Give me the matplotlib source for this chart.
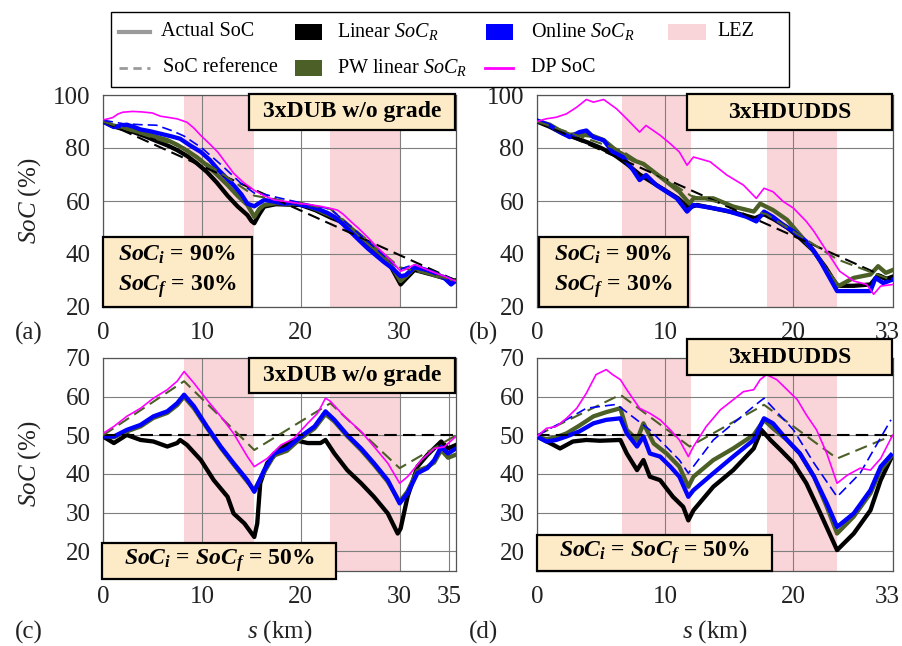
import matplotlib
matplotlib.use("Agg")
import matplotlib.pyplot as plt
from matplotlib.patches import Rectangle
from matplotlib.lines import Line2D
from matplotlib.transforms import ScaledTranslation

plt.rcParams['font.family'] = ['Liberation Serif', 'DejaVu Serif']
plt.rcParams['mathtext.fontset'] = 'custom'
plt.rcParams['mathtext.rm'] = 'Liberation Serif'
plt.rcParams['mathtext.it'] = 'Liberation Serif:italic'
plt.rcParams['mathtext.bf'] = 'Liberation Serif:bold'
HAS_BFIT = 'mathtext.bfit' in plt.rcParams
if HAS_BFIT:
    plt.rcParams['mathtext.bfit'] = 'Liberation Serif:bold:italic'

# ---------------- data ----------------
# Panel (a): 3xDUB w/o grade, SoC_i=90%, SoC_f=30%  (x in km)
a_dp_x = [0, 0.5, 1.0, 1.5, 2.0, 3.0, 4.0, 5.0, 5.8, 6.5, 7.5, 8.5, 9.2, 9.9, 10.8, 11.6, 12.4, 13.2, 14.2, 15.3, 16.3, 17.3, 18.5, 20.0, 21.0, 22.0, 23.0, 23.7, 24.3, 25.0, 25.9, 26.8, 27.6, 28.4, 29.3, 30.1, 30.6, 31.5, 32.5, 33.5, 34.6, 35.7]
a_dp_y = [90.6, 91.0, 91.5, 92.8, 93.5, 93.8, 93.6, 93.2, 92.0, 91.6, 91.0, 89.7, 87.5, 84.7, 81.5, 78.5, 74.5, 70.5, 67.0, 64.0, 62.0, 60.4, 59.8, 59.0, 58.6, 58.0, 57.2, 56.6, 55.0, 52.5, 49.5, 46.2, 43.0, 40.2, 36.8, 33.5, 34.2, 36.0, 34.5, 33.0, 31.5, 29.7]
a_on_x = [0, 0.5, 1.1, 1.7, 2.4, 3.1, 3.8, 4.8, 5.8, 6.8, 7.8, 8.8, 9.9, 10.8, 11.6, 12.4, 13.2, 14.0, 14.6, 15.3, 15.7, 16.3, 17.3, 18.3, 19.2, 20.0, 21.0, 22.0, 22.7, 23.4, 24.2, 25.0, 25.9, 26.8, 27.6, 28.4, 29.3, 30.1, 30.6, 31.5, 32.5, 33.5, 34.5, 35.2, 35.7]
a_on_y = [90.0, 89.0, 87.9, 88.3, 88.8, 88.0, 87.0, 86.3, 85.4, 84.5, 83.5, 81.0, 78.5, 75.5, 72.0, 69.0, 66.0, 62.5, 59.0, 58.0, 59.0, 60.4, 59.8, 59.0, 59.3, 58.5, 57.8, 56.6, 55.5, 54.0, 51.5, 48.5, 45.2, 42.0, 39.5, 37.0, 34.5, 31.6, 32.0, 35.0, 34.2, 33.0, 31.0, 28.5, 30.0]
a_onref_x = [0, 2, 3.8, 5.4, 7, 8.2, 10, 12, 14, 15.3, 16.3, 18, 20, 23, 25, 27, 29, 30, 30.6, 31.5, 33, 35.7]
a_onref_y = [90.5, 89.2, 88.8, 88.6, 86.5, 84.5, 80.0, 73.5, 66.5, 63.0, 62.5, 61.0, 59.3, 57.0, 50.5, 44.0, 37.5, 34.0, 35.0, 36.0, 34.0, 30.0]
a_pw_x = [0, 1, 2, 3.1, 4.2, 5.3, 6.5, 7.5, 8.5, 9.5, 10.5, 11.5, 12.6, 13.6, 14.6, 15.0, 15.3, 15.8, 16.3, 17.5, 19, 20, 21.5, 23, 24, 25, 26, 27, 28, 29, 30.1, 30.6, 31.5, 32.5, 33.5, 34.6, 35.7]
a_pw_y = [90, 88.5, 87.8, 86.6, 85.5, 84.3, 83.0, 81.2, 79.0, 76.5, 73.5, 70.0, 66.0, 62.0, 58.5, 56.0, 54.0, 57.0, 58.5, 59.2, 58.8, 59.0, 57.0, 54.5, 53.0, 50.0, 46.8, 43.5, 40.4, 36.5, 29.8, 31.5, 34.8, 33.5, 32.0, 31.0, 29.8]
a_lin_x = a_pw_x
a_lin_y = [90, 88.2, 87.2, 86.0, 84.5, 82.8, 81.0, 79.2, 77.0, 74.2, 71.0, 67.0, 62.0, 58.0, 54.7, 52.5, 51.6, 55.0, 57.9, 58.8, 58.6, 58.5, 56.5, 53.8, 52.3, 49.5, 46.0, 43.0, 40.0, 36.0, 28.5, 30.5, 34.0, 33.0, 32.0, 30.8, 29.8]
a_linref_x = [0, 35.7]
a_linref_y = [90, 30]
a_pwref_x = [0, 8.2, 15.3, 23.0, 30.0, 35.7]
a_pwref_y = [90, 80, 62, 57, 35, 30]

# Panel (b): 3xHDUDDS, SoC_i=90%, SoC_f=30%  (x in axis units, end = 33 km)
b_dp_x = [0, 0.7, 1.5, 2.3, 3.1, 3.85, 4.4, 5.2, 6.2, 7.0, 8.0, 8.5, 9.6, 10.4, 11.1, 11.7, 12.2, 13.5, 14.8, 16.1, 17.1, 17.7, 18.4, 19.2, 20.0, 21.0, 21.6, 22.6, 23.6, 24.7, 25.7, 26.25, 26.8, 27.76]
b_dp_y = [90, 91, 91.6, 92.9, 95.4, 98.3, 97.3, 98.3, 94.8, 91, 86, 88.5, 84.8, 81.6, 78.5, 73.5, 76.6, 74.8, 69.8, 66, 61, 64.8, 63.5, 59.8, 57.3, 52.3, 48.5, 41, 33.5, 29.8, 28.5, 24.8, 27.9, 28.5]
b_on_x = [0, 1.0, 1.8, 2.55, 3.3, 3.85, 4.4, 5.2, 5.9, 6.7, 7.5, 8.0, 8.5, 9.3, 10.1, 10.9, 11.7, 12.2, 13.5, 14.8, 16.35, 17.1, 17.7, 18.4, 19.2, 20.0, 21.0, 21.6, 22.1, 22.6, 23.4, 24.7, 26.0, 26.4, 27.0, 27.76]
b_on_y = [90.4, 88.5, 86.0, 84.1, 86.0, 86.6, 84.1, 82.9, 78.5, 76.6, 71.6, 67.9, 69.8, 66.0, 63.5, 61.0, 56.0, 58.5, 57.5, 56.3, 54.0, 52.3, 56.0, 54.0, 51.0, 48.5, 44.75, 41.0, 37.3, 32.9, 26.0, 26.0, 26.0, 31.0, 29.0, 30.4]
b_pw_x = [0, 1.0, 1.8, 2.55, 3.3, 4.4, 5.2, 6.2, 7.5, 8.3, 9.1, 10.1, 11.1, 11.9, 12.2, 13.75, 15.3, 16.9, 17.4, 18.4, 19.5, 20.5, 21.6, 22.6, 23.5, 24.7, 26.0, 26.6, 27.2, 27.76]
b_pw_y = [90.2, 88.8, 86.5, 85.0, 85.2, 84.5, 83.0, 79.0, 75.4, 74.0, 71.0, 67.3, 63.5, 59.0, 61.0, 61.0, 57.9, 56.0, 59.0, 56.6, 52.9, 47.25, 41.0, 33.5, 27.9, 31.0, 32.25, 35.4, 32.9, 34.0]
b_lin_x = [0, 1.0, 2.0, 3.0, 4.0, 5.0, 6.0, 7.0, 8.0, 9.0, 10.0, 11.0, 11.8, 12.5, 14.0, 15.5, 17.0, 17.7, 18.5, 19.5, 20.5, 21.5, 22.5, 23.4, 24.7, 26.0, 26.6, 27.2, 27.76]
b_lin_y = [90.0, 88.0, 85.5, 83.8, 82.0, 80.0, 77.5, 74.0, 70.0, 67.0, 64.0, 61.0, 57.5, 58.5, 57.0, 55.5, 53.5, 55.0, 53.0, 50.0, 46.0, 41.5, 35.0, 28.0, 28.0, 28.5, 32.0, 30.5, 31.5]
b_linref_x = [0, 27.76]
b_linref_y = [90, 30]
b_pwref_x = [0, 6.6, 12.0, 17.9, 23.4, 27.76]
b_pwref_y = [90, 79, 62, 55, 38, 30]

# Panel (c): 3xDUB w/o grade, SoC_i=SoC_f=50%
c_dp_x = [0, 1.1, 2.4, 3.8, 5.1, 6.5, 7.5, 8.2, 9.2, 10.5, 11.9, 13.2, 14.6, 15.3, 16.6, 18.0, 19.3, 20.7, 21.7, 22.5, 23.0, 24.4, 26.1, 27.4, 28.8, 30.0, 30.8, 32.2, 33.5, 34.5, 35.7]
c_dp_y = [50.5, 52.3, 54.9, 57.0, 59.6, 61.8, 64.0, 66.5, 63.5, 59.2, 54.9, 50.5, 44.5, 41.9, 44.0, 47.5, 49.2, 53.1, 55.7, 59.6, 58.8, 54.9, 51.0, 47.1, 42.8, 37.6, 39.3, 43.6, 46.6, 47.0, 49.7]
c_on_x = [0, 1.1, 2.4, 3.8, 5.1, 6.5, 7.5, 8.2, 9.2, 10.5, 11.9, 13.2, 14.6, 15.3, 16.3, 17.3, 18.6, 20.0, 21.4, 22.5, 23.4, 24.7, 26.1, 27.4, 28.8, 30.0, 30.8, 31.8, 32.8, 33.5, 34.2, 34.9, 35.7]
c_on_y = [49.7, 49.7, 51.4, 52.7, 54.9, 56.2, 58.3, 60.5, 57.5, 52.3, 47.1, 42.8, 38.4, 35.4, 41.0, 45.3, 46.6, 49.7, 52.3, 56.2, 54.0, 50.1, 46.6, 42.8, 38.4, 32.4, 35.0, 40.2, 41.5, 43.6, 47.0, 45.3, 46.6]
c_pw_x = c_on_x
c_pw_y = [50.0, 49.5, 51.0, 52.3, 54.5, 55.8, 57.8, 60.0, 57.0, 52.0, 46.8, 42.5, 38.0, 35.8, 40.5, 44.8, 46.0, 49.2, 51.8, 55.5, 53.6, 49.8, 46.2, 42.4, 38.0, 32.8, 35.5, 40.8, 41.8, 43.0, 46.2, 44.2, 45.0]
c_lin_x = [0, 1.1, 2.4, 3.8, 5.1, 6.5, 7.5, 7.8, 8.5, 9.9, 11.2, 12.6, 13.2, 14.3, 15.3, 15.6, 15.9, 16.6, 18.0, 19.3, 20.7, 22.0, 22.5, 23.4, 24.7, 26.1, 27.4, 28.8, 29.8, 30.1, 30.8, 31.8, 32.8, 34.2, 34.9, 35.7]
c_lin_y = [49.7, 48.0, 50.1, 48.8, 48.4, 47.1, 48.0, 48.8, 47.5, 43.6, 38.4, 34.1, 29.8, 27.2, 23.7, 27.2, 37.6, 42.8, 46.6, 48.8, 48.0, 48.0, 48.8, 45.3, 41.0, 37.6, 34.1, 29.8, 24.6, 25.9, 34.1, 41.9, 44.9, 48.4, 46.6, 47.5]
c_linref_x = [0, 35.7]
c_linref_y = [50, 50]
c_pwref_x = [0, 8.2, 15.3, 23.0, 30.0, 35.7]
c_pwref_y = [50, 64, 46.2, 58.3, 41.5, 50]

# Panel (d): 3xHDUDDS, SoC_i=SoC_f=50%
d_dp_x = [0, 0.73, 1.5, 2.3, 3.1, 3.85, 4.6, 5.4, 5.9, 6.5, 7.0, 8.0, 8.8, 9.6, 10.4, 11.1, 11.8, 12.2, 13.2, 14.3, 15.3, 16.1, 16.9, 17.4, 17.9, 18.7, 19.5, 20.3, 21.0, 21.8, 22.6, 23.4, 24.2, 25.2, 26.0, 26.8, 27.6, 27.76]
d_dp_y = [49.7, 51.8, 52.3, 54.4, 57.0, 60.9, 65.7, 67.0, 65.7, 64.4, 61.8, 57.0, 55.7, 54.0, 51.4, 48.8, 44.5, 47.1, 52.3, 56.6, 59.2, 61.3, 61.8, 64.4, 65.7, 64.4, 61.8, 59.2, 55.3, 51.4, 45.3, 37.6, 39.7, 41.5, 41.0, 44.0, 49.2, 50.0]
d_on_x = [0, 0.73, 1.5, 2.3, 3.3, 4.4, 5.4, 6.5, 7.0, 7.8, 8.3, 8.8, 9.6, 10.4, 11.1, 11.8, 12.2, 13.75, 15.3, 16.9, 17.7, 18.4, 19.5, 20.5, 21.6, 22.6, 23.4, 24.7, 26.0, 26.8, 27.6]
d_on_y = [49.7, 48.4, 48.8, 49.7, 51.0, 53.1, 54.0, 54.4, 50.5, 47.1, 49.7, 45.3, 44.5, 41.9, 39.3, 34.1, 35.8, 40.2, 44.5, 48.8, 54.4, 53.1, 48.8, 45.3, 39.3, 32.4, 26.3, 29.8, 35.8, 41.9, 44.9]
d_onref_x = [0, 1.8, 3.85, 6.2, 8.8, 11.1, 11.8, 13.75, 16.9, 17.7, 20.0, 21.6, 23.4, 25.2, 27.6]
d_onref_y = [50, 53.1, 57.0, 58.0, 51.4, 43.6, 40.2, 48.8, 57.5, 59.6, 51.4, 42.8, 34.1, 40.2, 54.0]
d_pw_x = [0, 0.73, 1.5, 2.3, 3.3, 4.4, 5.4, 6.5, 7.0, 7.8, 8.3, 9.1, 10.1, 11.1, 11.8, 12.2, 13.75, 15.3, 16.9, 17.7, 18.4, 19.5, 20.5, 21.6, 22.6, 23.4, 24.7, 26.0, 26.8, 27.6]
d_pw_y = [49.7, 49.0, 49.5, 50.5, 52.5, 54.9, 56.0, 57.0, 51.4, 48.8, 53.1, 47.9, 45.3, 41.9, 36.7, 39.3, 43.6, 46.6, 50.1, 54.0, 51.8, 48.8, 45.3, 39.3, 31.5, 24.6, 29.0, 35.0, 41.0, 44.5]
d_lin_x = [0, 1.0, 1.8, 2.8, 3.85, 4.9, 6.5, 7.0, 7.8, 8.3, 8.8, 9.6, 10.6, 11.4, 11.8, 12.2, 13.75, 15.3, 16.9, 17.5, 18.2, 19.0, 20.0, 21.0, 22.1, 23.4, 24.7, 26.0, 26.8, 27.6]
d_lin_y = [49.7, 48.0, 46.6, 48.4, 48.8, 48.6, 48.8, 45.3, 41.0, 43.6, 39.3, 38.4, 34.1, 31.5, 28.0, 30.6, 36.7, 41.0, 46.6, 51.4, 48.8, 46.2, 42.8, 37.6, 29.8, 20.3, 24.6, 30.6, 38.4, 44.0]
d_linref_x = [0, 27.76]
d_linref_y = [50, 50]
d_pwref_x = [0, 6.5, 11.9, 17.7, 23.4, 27.76]
d_pwref_y = [50, 60.5, 47.1, 57.9, 44.0, 50]

# LEZ zones
lez_dub = [(8.2, 15.3), (23.0, 30.0)]
lez_hd = [(6.6, 12.0), (17.9, 23.4)]

# ticks
dub_xticks = [0, 10, 20, 30]
dub_xticks_c = [0, 10, 20, 30, 35]
hd_xticks = [0, 10, 20, 27.76]
hd_xticklabels = ['0', '10', '20', '33']
top_yticks = [20, 40, 60, 80, 100]
bot_yticks = [20, 30, 40, 50, 60, 70]

# legend entries
legend_labels = ['Actual SoC', 'SoC reference', r'Linear $SoC_R$', r'PW linear $SoC_R$',
                 r'Online $SoC_R$', 'DP SoC', 'LEZ']

# ---------------- style ----------------
BLACK = '#000000'
GREEN = '#4b5f27'
BLUE = '#0000ff'
MAG = '#ff00ff'
PINK = '#f9d4d8'
BOXC = '#fdeac6'
GRAYL = '#9a9a9a'

W = 902.0
H = 646.0
fig = plt.figure(figsize=(W / 100, H / 100), dpi=100)


def fx(px):
    return px / W


def fy(py):
    return 1 - py / H


def ax_at(l, r, t, b):
    return fig.add_axes([l / W, 1 - b / H, (r - l) / W, (b - t) / H])


axa = ax_at(103, 456, 95, 307)
axb = ax_at(537, 893, 95, 307)
axc = ax_at(103, 456, 358, 571)
axd = ax_at(537, 893, 358, 571)


def setup(ax, xlim, ylim, xt, xtl, yt, lez):
    ax.set_xlim(*xlim)
    ax.set_ylim(*ylim)
    ax.set_xticks(xt)
    ax.set_xticklabels(xtl)
    ax.set_yticks(yt)
    ax.tick_params(length=0, labelsize=18, colors='#222222')
    ax.tick_params(axis='x', pad=11)
    ax.tick_params(axis='y', pad=9)
    ax.grid(True, color='#7f7f7f', lw=0.8)
    ax.set_axisbelow(True)
    for s in ax.spines.values():
        s.set_color('#555555')
        s.set_linewidth(0.9)
    for (x0, x1) in lez:
        ax.axvspan(x0, x1, color=PINK, lw=0, zorder=0.2)


setup(axa, (0, 35.7), (20, 100), dub_xticks, [str(v) for v in dub_xticks], top_yticks, lez_dub)
setup(axb, (0, 27.76), (20, 100), hd_xticks, hd_xticklabels, top_yticks, lez_hd)
setup(axc, (0, 35.7), (14.9, 70), dub_xticks_c, [str(v) for v in dub_xticks_c], bot_yticks, lez_dub)
setup(axd, (0, 27.76), (14.9, 70), hd_xticks, hd_xticklabels, bot_yticks, lez_hd)

# shift the last ("33") tick label slightly left so it stays inside the figure
for ax in (axb, axd):
    lab = ax.get_xticklabels()[-1]
    lab.set_transform(lab.get_transform() + ScaledTranslation(-6 / 100, 0, fig.dpi_scale_trans))

THICK = 3.1
DASHW = 1.5
DASH = (6, 3)


def draw(ax, lin, pw, on, dp, linref, pwref, onref=None):
    ax.plot(lin[0], lin[1], color=BLACK, lw=THICK, zorder=3)
    ax.plot(pw[0], pw[1], color=GREEN, lw=THICK, zorder=3.1)
    ax.plot(on[0], on[1], color=BLUE, lw=THICK, zorder=3.2)
    ax.plot(linref[0], linref[1], color=BLACK, lw=DASHW, dashes=DASH, zorder=3.5)
    ax.plot(pwref[0], pwref[1], color=GREEN, lw=DASHW, dashes=DASH, zorder=3.5)
    if onref is not None:
        ax.plot(onref[0], onref[1], color=BLUE, lw=1.2, dashes=DASH, zorder=3.6)
    ax.plot(dp[0], dp[1], color=MAG, lw=1.2, zorder=4)


draw(axa, (a_lin_x, a_lin_y), (a_pw_x, a_pw_y), (a_on_x, a_on_y), (a_dp_x, a_dp_y),
     (a_linref_x, a_linref_y), (a_pwref_x, a_pwref_y), (a_onref_x, a_onref_y))
draw(axb, (b_lin_x, b_lin_y), (b_pw_x, b_pw_y), (b_on_x, b_on_y), (b_dp_x, b_dp_y),
     (b_linref_x, b_linref_y), (b_pwref_x, b_pwref_y))
draw(axc, (c_lin_x, c_lin_y), (c_pw_x, c_pw_y), (c_on_x, c_on_y), (c_dp_x, c_dp_y),
     (c_linref_x, c_linref_y), (c_pwref_x, c_pwref_y))
draw(axd, (d_lin_x, d_lin_y), (d_pw_x, d_pw_y), (d_on_x, d_on_y), (d_dp_x, d_dp_y),
     (d_linref_x, d_linref_y), (d_pwref_x, d_pwref_y), (d_onref_x, d_onref_y))


def fbox(l, r, t, b, txt, size):
    fig.patches.append(Rectangle((fx(l), fy(b)), (r - l) / W, (b - t) / H,
                                 transform=fig.transFigure, facecolor=BOXC,
                                 edgecolor='black', lw=1.6, zorder=10))
    fig.text((l + r) / 2 / W, 1 - (t + b) / 2 / H, txt, ha='center', va='center',
             fontsize=size, fontweight='bold', linespacing=1.38, zorder=11)


if HAS_BFIT:
    si = r'$\mathbfit{SoC_i}$'
    sf = r'$\mathbfit{SoC_f}$'
else:
    si = r'$\mathit{SoC_i}$'
    sf = r'$\mathit{SoC_f}$'

fbox(249, 455, 94, 130, '3xDUB w/o grade', 17)
fbox(103, 252, 237, 307, si + ' = 90%\n' + sf + ' = 30%', 17)
fbox(687, 892, 94, 130, '3xHDUDDS', 17)
fbox(539, 688, 237, 307, si + ' = 90%\n' + sf + ' = 30%', 17)
fbox(249, 455, 358, 393, '3xDUB w/o grade', 17)
fbox(102, 336, 543, 579, si + ' = ' + sf + ' = 50%', 17)
fbox(687, 892, 339, 375, '3xHDUDDS', 17)
fbox(537, 772, 535, 571, si + ' = ' + sf + ' = 50%', 17)

# panel labels & axis labels
for lbl, x, y in [('(a)', 29, 333), ('(b)', 483, 333), ('(c)', 29, 632), ('(d)', 483, 632)]:
    fig.text(fx(x), fy(y), lbl, ha='center', va='center', fontsize=18, color='#222222')
fig.text(fx(279.5), fy(632), r'$s$ (km)', ha='center', va='center', fontsize=18, color='#222222')
fig.text(fx(715), fy(632), r'$s$ (km)', ha='center', va='center', fontsize=18, color='#222222')
fig.text(fx(30), fy(201), r'$SoC$ (%)', ha='center', va='center', rotation=90, fontsize=18, color='#222222')
fig.text(fx(30), fy(464), r'$SoC$ (%)', ha='center', va='center', rotation=90, fontsize=18, color='#222222')

# ---------------- legend (laid out like the original, 4 columns x 2 rows) ----------------
fig.patches.append(Rectangle((fx(111), fy(87)), (789 - 111) / W, (87 - 12) / H,
                             transform=fig.transFigure, facecolor='white',
                             edgecolor='black', lw=1.0, zorder=20))
ROW1, ROW2 = 32, 68
LFS = 14.5


def leg_line(x0, x1, y, color, lw, dashes=None):
    ln = Line2D([fx(x0), fx(x1)], [fy(y), fy(y)], transform=fig.transFigure,
                color=color, lw=lw, zorder=21)
    if dashes is not None:
        ln.set_dashes(dashes)
    fig.add_artist(ln)


def leg_box(x0, x1, y, color, h=16):
    fig.patches.append(Rectangle((fx(x0), fy(y + h / 2)), (x1 - x0) / W, h / H,
                                 transform=fig.transFigure, facecolor=color,
                                 edgecolor='none', zorder=21))


def leg_text(x, y, s):
    fig.text(fx(x), fy(y), s, ha='left', va='center', fontsize=LFS, zorder=22)


leg_line(119, 150, ROW1, GRAYL, 3)
leg_text(161, ROW1, legend_labels[0])
leg_line(119, 150, ROW2, GRAYL, 2, dashes=(3, 2))
leg_text(163, ROW2, legend_labels[1])
leg_box(295, 322, ROW1, BLACK)
leg_text(337, ROW1, legend_labels[2])
leg_box(295, 322, ROW2, GREEN)
leg_text(337, ROW2, legend_labels[3])
leg_box(486, 513, ROW1, BLUE)
leg_text(531, ROW1, legend_labels[4])
leg_line(485, 513, ROW2, MAG, 2)
leg_text(531, ROW2, legend_labels[5])
leg_box(668, 706, ROW1, PINK)
leg_text(717, ROW1, legend_labels[6])

fig.savefig('out.png', dpi=100)
